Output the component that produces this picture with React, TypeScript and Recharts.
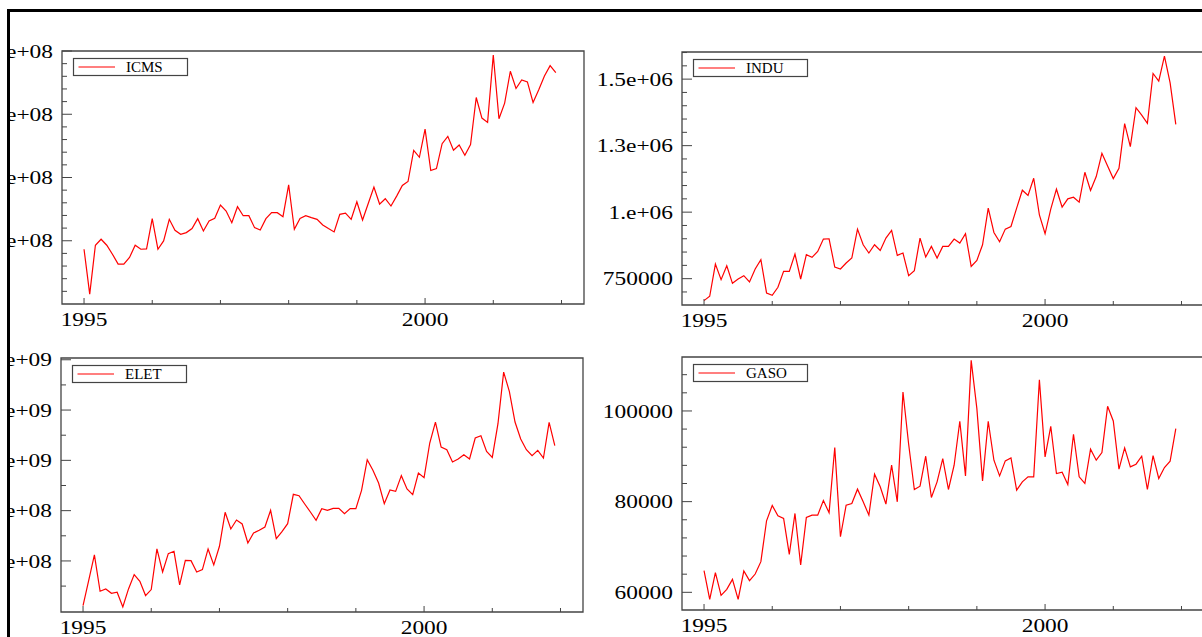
import React from "react";
import { LineChart, Line, XAxis, YAxis, ReferenceArea, Legend } from "recharts";

// monthly series, Jan 1995 .. Dec 2001
const startYear = 1995;
const yearTicks = [1995, 1996, 1997, 1998, 1999, 2000, 2001, 2002];
const labelledYears = [1995, 2000];
const xDomain: [number, number] = [1994.677, 2002.33];

// ICMS, millions
const icms = [
	186.6, 115.7, 192.9, 202.4, 192.9, 178.7, 163, 163, 173.5, 192.9,
	186.6, 187.1, 234.9, 186.6, 199.7, 233.9, 216.5, 210.2, 212.9, 219.2,
	234.9, 215.5, 231.2, 235.4, 256.4, 247, 228.6, 253.8, 239.6, 239.6,
	220.7, 217, 234.9, 244.4, 244.4, 238, 288.5, 218.1, 235.4, 239.6,
	236.5, 233.9, 224.9, 219.2, 213.9, 241.7, 243.8, 233.9, 261.7, 232.8,
	259, 284.8, 258, 266.4, 254.9, 270.6, 287.4, 293.7, 343, 332,
	376.6, 311, 314.2, 353.5, 365.1, 343, 351.4, 335.2, 352, 426.5,
	394, 387.1, 493.7, 392.9, 417.6, 468, 440.7, 454.3, 451.2, 418.6,
	438.6, 460.6, 476.9, 465.9,
];
const icmsMajor = [200, 300, 400, 500];
const icmsLabels = ["2.e+08", "3.e+08", "4.e+08", "5.e+08"];
const icmsMinor = [120, 140, 160, 180, 220, 240, 260, 280, 320, 340, 360, 380, 420, 440, 460, 480];

const indu = [
	667500, 683750, 805000, 746250, 798750, 732500, 748750, 761250, 737500, 786250,
	821250, 696250, 687500, 717500, 777500, 777500, 842500, 748750, 840000, 830000,
	852500, 898750, 900000, 793750, 786250, 808750, 827500, 936250, 877500, 846250,
	877500, 856250, 902500, 931250, 837500, 846250, 761250, 780000, 902500, 831250,
	871250, 827500, 871250, 871250, 898750, 883750, 918750, 796250, 818750, 877500,
	1015000, 923750, 888750, 936250, 946250, 1015000, 1082500, 1062500, 1127500, 990000,
	918750, 1011250, 1086250, 1018750, 1050000, 1056250, 1037500, 1150000, 1081250, 1133750,
	1221250, 1173750, 1126250, 1165000, 1332500, 1246250, 1392500, 1365000, 1333750, 1521250,
	1492500, 1586250, 1486250, 1330000,
];
const induMajor = [750000, 1000000, 1250000, 1500000];
const induLabels = ["750000", "1.e+06", "1.3e+06", "1.5e+06"];
const induMinor = [
	700000, 800000, 850000, 900000, 950000, 1050000, 1100000, 1150000, 1200000,
	1300000, 1350000, 1400000, 1450000, 1550000, 1600000,
];

// ELET, millions
const elet = [
	422.5, 523.2, 623.8, 479.5, 488.7, 471.5, 475.5, 417.2, 488.7, 545.7,
	519.2, 462.3, 486.1, 647.7, 556.3, 629.1, 638.4, 504.6, 602.6, 601.3,
	556.3, 565.6, 647.7, 584.1, 658.3, 793.4, 727.2, 762.9, 747, 671.5,
	711.3, 721.9, 735.1, 801.3, 688.7, 716.6, 748.3, 864.9, 859.6, 826.5,
	794.7, 761.6, 807.9, 801.3, 809.3, 809.3, 788.1, 807.9, 807.9, 880.8,
	1002.6, 960.3, 909.9, 827.8, 882.1, 876.8, 939.1, 886.1, 863.6, 949.7,
	931.1, 1068.9, 1152.3, 1053, 1042.4, 993.4, 1005.3, 1022.5, 1005.3, 1088.7,
	1098, 1035.8, 1011.9, 1145.7, 1351, 1274.2, 1152.3, 1084.8, 1042.4, 1018.5,
	1039.7, 1009.3, 1151, 1058.3,
];
const eletMajor = [600, 800, 1000, 1200, 1400];
const eletLabels = ["6.e+08", "8.e+08", "1.e+09", "1.2e+09", "1.4e+09"];
const eletMinor = [500, 700, 900, 1100, 1300];

const gaso = [
	64770, 58459, 64330, 59340, 60660, 62862, 58459, 64697, 62569, 64036,
	66752, 75779, 79155, 76880, 76293, 68366, 77393, 66018, 76513, 77026,
	77026, 80256, 77540, 91925, 72256, 79228, 79595, 82751, 79962, 77026,
	86053, 83265, 79448, 88035, 79962, 104181, 92659, 82678, 83411, 90017,
	80916, 84365, 89503, 82678, 88035, 97722, 85687, 111153, 100511, 84586,
	97722, 89136, 85687, 88989, 89650, 82531, 84365, 85466, 85466, 106896,
	89870, 96622, 86200, 86494, 83778, 94860, 85466, 83999, 91558, 89136,
	90824, 101025, 97796, 87154, 91851, 87668, 88255, 90017, 82678, 90163,
	85099, 87521, 88916, 96108,
];
const gasoMajor = [60000, 80000, 100000];
const gasoLabels = ["60000", "80000", "100000"];
const gasoMinor = [64000, 68000, 72000, 76000, 84000, 88000, 92000, 96000, 104000, 108000];

const FONT = "'Liberation Serif', 'Times New Roman', serif";
const AXIS_W = 110;
const TOP = 51;
const XAXIS_H = 30;
const PLOT_W = 522;
const RIGHT = 16;
const BOX = "#444";

type PanelProps = {
	name: string;
	values: number[];
	domain: [number, number];
	major: number[];
	labels: string[];
	minor: number[];
	left: number;
	top: number;
	plotHeight: number;
};

const Panel = (p: PanelProps) => {
	const data = p.values.map((v, i) => ({ t: startYear + i / 12, v }));

	const renderYTick = (props: any) => {
		const { x, y, payload } = props;
		const idx = p.major.indexOf(payload.value);
		const isMajor = idx >= 0;
		return (
			<g>
				<line x1={x} x2={x + (isMajor ? 10 : 5)} y1={y} y2={y} stroke={BOX} strokeWidth={1} />
				{isMajor && (
					<text
						transform={`translate(${x - 9},${y + 6.6}) scale(1.2,1)`}
						textAnchor="end"
						fontSize={19.5}
						fontFamily={FONT}
						fill="#000"
					>
						{p.labels[idx]}
					</text>
				)}
			</g>
		);
	};

	const renderXTick = (props: any) => {
		const { x, y, payload } = props;
		const isMajor = labelledYears.includes(payload.value);
		return (
			<g>
				<line x1={x} x2={x} y1={y} y2={y - (isMajor ? 6 : 4)} stroke={BOX} strokeWidth={1} />
				{isMajor && (
					<text
						transform={`translate(${x},${y + 22}) scale(1.2,1)`}
						textAnchor="middle"
						fontSize={19.5}
						fontFamily={FONT}
						fill="#000"
					>
						{payload.value}
					</text>
				)}
			</g>
		);
	};

	const renderLegend = (props: any) => {
		const label = props.payload && props.payload[0] ? props.payload[0].value : p.name;
		return (
			<svg width={115} height={18} style={{ display: "block", overflow: "visible" }}>
				<rect x={0.5} y={0.5} width={114} height={17} fill="#fff" stroke={BOX} strokeWidth={1.2} />
				<line x1={5.5} x2={42} y1={9} y2={9} stroke="#ff0000" strokeWidth={1.2} />
				<text x={53} y={14} fontSize={15} fontFamily={FONT} fill="#000">
					{label}
				</text>
			</svg>
		);
	};

	return (
		<div
			style={{
				position: "absolute",
				left: p.left - AXIS_W - 10,
				top: p.top - TOP - 12,
			}}
		>
			<LineChart
				width={AXIS_W + PLOT_W + RIGHT}
				height={TOP + p.plotHeight + XAXIS_H}
				data={data}
				margin={{ top: TOP, right: RIGHT, bottom: 0, left: 0 }}
			>
				<XAxis
					dataKey="t"
					type="number"
					domain={xDomain}
					ticks={yearTicks}
					interval={0}
					allowDataOverflow
					height={XAXIS_H}
					axisLine={false}
					tickLine={false}
					tickSize={0}
					tickMargin={0}
					tick={renderXTick}
				/>
				<YAxis
					type="number"
					domain={p.domain}
					ticks={[...p.major, ...p.minor]}
					interval={0}
					allowDataOverflow
					width={AXIS_W}
					axisLine={false}
					tickLine={false}
					tickSize={0}
					tickMargin={0}
					tick={renderYTick}
				/>
				<ReferenceArea
					x1={xDomain[0]}
					x2={xDomain[1]}
					y1={p.domain[0]}
					y2={p.domain[1]}
					fill="none"
					stroke={BOX}
					strokeWidth={1.3}
					ifOverflow="visible"
				/>
				<Line
					type="linear"
					dataKey="v"
					name={p.name}
					stroke="#ff0000"
					strokeWidth={1.2}
					dot={false}
					isAnimationActive={false}
				/>
				<Legend
					layout="horizontal"
					verticalAlign="middle"
					align="center"
					wrapperStyle={{ left: AXIS_W + 11, top: TOP + 7, width: 115, height: 18 }}
					content={renderLegend}
				/>
			</LineChart>
		</div>
	);
};

const App = () => {
	return (
		<div
			style={{
				position: "fixed",
				left: 0,
				top: 0,
				width: 1202,
				height: 637,
				overflow: "hidden",
				background: "#fff",
			}}
		>
			<div
				style={{
					position: "absolute",
					left: 7,
					top: 9,
					width: 1300,
					height: 700,
					borderTop: "3px solid #000",
					borderLeft: "3px solid #000",
					overflow: "hidden",
				}}
			>
				<Panel name="ICMS" values={icms} domain={[100, 500]} major={icmsMajor} labels={icmsLabels} minor={icmsMinor} left={62} top={51} plotHeight={253} />
				<Panel name="INDU" values={indu} domain={[651000, 1602000]} major={induMajor} labels={induLabels} minor={induMinor} left={682} top={52} plotHeight={253} />
				<Panel name="ELET" values={elet} domain={[397, 1407]} major={eletMajor} labels={eletLabels} minor={eletMinor} left={61} top={358} plotHeight={254} />
				<Panel name="GASO" values={gaso} domain={[56100, 111900]} major={gasoMajor} labels={gasoLabels} minor={gasoMinor} left={682} top={357} plotHeight={253} />
			</div>
		</div>
	);
};

export default App;
